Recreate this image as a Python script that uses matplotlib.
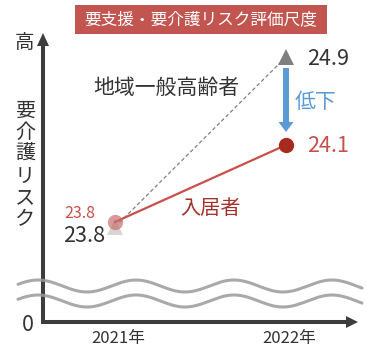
import numpy as np
import matplotlib
matplotlib.use("Agg")
import matplotlib.pyplot as plt
import matplotlib.transforms as mtransforms
from matplotlib.patches import Rectangle

plt.rcParams['font.family'] = ['Noto Sans CJK JP', 'DejaVu Sans']

years = [2021, 2022]
year_labels = ["2021年", "2022年"]
general = [23.8, 24.9]    # 地域一般高齢者
resident = [23.8, 24.1]   # 入居者

W, H = 379, 355
fig = plt.figure(figsize=(W / 100, H / 100), dpi=100)

# pixel-coordinate layer for the decorations (axis arrows, waves, title)
bg = fig.add_axes([0, 0, 1, 1])
bg.set_xlim(0, W)
bg.set_ylim(H, 0)
bg.axis('off')

# schematic y axis: piecewise scale, value -> pixels from bottom
sv = [-10, 0, 23.8, 24.1, 24.9, 30]
sp = [-7, 33, 133, 210, 303, 864]
fwd = lambda v: np.interp(v, sv, sp)
inv = lambda p: np.interp(p, sp, sv)

ax = fig.add_axes([0, 0, 1, 1])
ax.set_yscale('function', functions=(fwd, inv))
ax.set_ylim(inv(0), inv(H))
step = 286 - 115  # pixels per year
ax.set_xlim(2021 - 115 / step, 2021 + (W - 115) / step)
ax.axis('off')
ax.patch.set_visible(False)

# title box
bg.add_patch(Rectangle((75, 5), 252, 29, color='#c2554f', lw=0))
bg.text(201, 20, "要支援・要介護リスク評価尺度", color='white', fontsize=12,
        ha='center', va='center')

# axes arrows
axc = '#3d3d3d'
bg.plot([43, 43], [324, 44], color=axc, lw=2.9, solid_capstyle='butt')
bg.fill([37, 49, 43], [46, 46, 33], color=axc, lw=0)
bg.plot([41, 348], [322, 322], color=axc, lw=2.9, solid_capstyle='butt')
bg.fill([346, 346, 358], [316, 328, 322], color=axc, lw=0)

# broken-axis waves
bg.fill_between([15, 365], 272, 308, color='white', alpha=0.55, lw=0)
xw = np.linspace(18, 362, 400)
top = 286 - 6 * np.cos(2 * np.pi * (xw - 38) / 98)
bg.plot(xw, top, color='#9a9a9a', lw=2.2, alpha=0.85, solid_capstyle='round')
bg.plot(xw, top + 15, color='#9a9a9a', lw=2.2, alpha=0.85, solid_capstyle='round')

bg.text(25, 42, "高", fontsize=14, ha='center', va='center', color='#333333')
bg.text(28, 325, "0", fontsize=15.5, ha='center', va='center', color='#333333')
for i, ch in enumerate("要介護リスク"):
    bg.text(25, 111 + i * 21.8, ch, fontsize=14.5, ha='center', va='center',
            color='#333333')

# data
tri_tr = mtransforms.offset_copy(ax.transData, fig=fig, y=-5, units='dots')
ax.plot(years, general, ls=(0, (3, 2)), color='#808080', lw=0.9,
        transform=tri_tr, zorder=2)
ax.plot(years[:1], general[:1], '^', ms=11, color='#d6d6d6', mew=0,
        transform=tri_tr, zorder=2)
ax.plot(years[1:], general[1:], '^', ms=11, color='#808080', mew=0,
        transform=tri_tr, zorder=2)
ax.plot(years, resident, color='#c8504a', lw=1.6, zorder=3)
ax.plot(years[:1], resident[:1], 'o', ms=11, color='#c6706e', alpha=0.7,
        mew=0, zorder=4)
ax.plot(years[1:], resident[1:], 'o', ms=11, color='#a8291f', mew=0, zorder=4)

# value labels
ax.annotate("%.1f" % general[1], (years[1], general[1]), xytext=(21, -13),
            textcoords='offset pixels', ha='left', va='baseline',
            fontsize=15.5, color='#333333')
ax.annotate("%.1f" % resident[1], (years[1], resident[1]), xytext=(21, -7),
            textcoords='offset pixels', ha='left', va='baseline',
            fontsize=15.5, color='#c8504a')
ax.annotate("%.1f" % resident[0], (years[0], resident[0]), xytext=(-20, 4),
            textcoords='offset pixels', ha='right', va='baseline',
            fontsize=11.5, color='#c8504a')
ax.annotate("%.1f" % general[0], (years[0], general[0]), xytext=(-10, -20),
            textcoords='offset pixels', ha='right', va='baseline',
            fontsize=15.5, color='#333333')

# decrease arrow
ax.annotate('', xy=(years[1], resident[1]), xytext=(years[1], general[1]),
            arrowprops=dict(arrowstyle='simple,head_width=1.08,head_length=0.72,tail_width=0.43',
                            color='#5b9bd5', lw=0, shrinkA=11.5, shrinkB=9.4,
                            mutation_scale=10))
bg.text(295, 102, "低下", fontsize=15, ha='left', va='center', color='#5b9bd5')

bg.text(166, 88, "地域一般高齢者", fontsize=15, ha='center', va='center',
        color='#333333')
bg.text(210, 208, "入居者", fontsize=14.5, ha='center', va='center',
        color='#a6302a')

# year labels
xlab_tr = mtransforms.blended_transform_factory(
    mtransforms.offset_copy(ax.transData, fig=fig, x=3, units='dots'), bg.transData)
for yr, lab in zip(years, year_labels):
    ax.text(yr, 339, lab, transform=xlab_tr, fontsize=12, ha='center',
            va='center', color='#333333')

fig.savefig("out.png", dpi=100)
